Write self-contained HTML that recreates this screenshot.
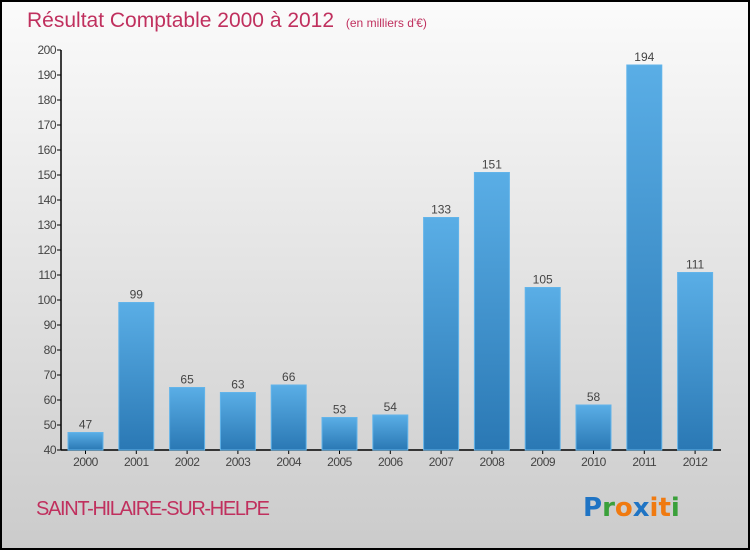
<!DOCTYPE html>
<html><head><meta charset="utf-8"><style>
html,body{margin:0;padding:0;}
body{width:750px;height:550px;overflow:hidden;font-family:"Liberation Sans",sans-serif;}
</style></head><body>
<svg id="chart" width="750" height="550" xmlns="http://www.w3.org/2000/svg">
<defs>
<linearGradient id="bg" x1="0" y1="0" x2="0" y2="1"><stop offset="0" stop-color="#fbfbfb"/><stop offset="1" stop-color="#cbcbcb"/></linearGradient>
<linearGradient id="bar" x1="0" y1="0" x2="0" y2="1"><stop offset="0" stop-color="#5aaee6"/><stop offset="1" stop-color="#2a78b4"/></linearGradient>
</defs>
<rect x="1" y="1" width="748" height="548" fill="url(#bg)" stroke="#000" stroke-width="2"/>
<text x="27" y="27" font-size="21" fill="#c0305e">Résultat Comptable 2000 à 2012 <tspan font-size="12" dx="6">(en milliers d'€)</tspan></text>
<g id="axes"></g>
<g id="bars"></g>
<text x="36" y="515" font-size="20" fill="#c0305e" textLength="234">SAINT-HILAIRE-SUR-HELPE</text>
<text x="583" y="516" font-size="26" font-weight="bold" font-family="'DejaVu Sans',sans-serif"><tspan fill="#1f74c4">P</tspan><tspan fill="#3aa03a">r</tspan><tspan fill="#f07a10">o</tspan><tspan fill="#1f74c4">x</tspan><tspan fill="#f07a10">i</tspan><tspan fill="#f07a10">t</tspan><tspan fill="#3aa03a">i</tspan></text>
</svg>
<script>
const categories=["2000","2001","2002","2003","2004","2005","2006","2007","2008","2009","2010","2011","2012"];
const values=[47,99,65,63,66,53,54,133,151,105,58,194,111];
const yTicks=[40,50,60,70,80,90,100,110,120,130,140,150,160,170,180,190,200];
const NS="http://www.w3.org/2000/svg";
const y=v=>450-(v-40)*2.5;
const x=i=>85.5+i*50.8;
const axes=document.getElementById('axes'),bars=document.getElementById('bars');
function mk(tag,attrs,parent,text){const e=document.createElementNS(NS,tag);for(const k in attrs)e.setAttribute(k,attrs[k]);if(text!==undefined)e.textContent=text;parent.appendChild(e);return e;}
let ya=mk('line',{x1:61,y1:50,x2:61,y2:450,stroke:'#000','stroke-width':1.5},axes);


let xa=mk('line',{x1:61,y1:450,x2:721,y2:450,stroke:'#000','stroke-width':1.5},axes);


yTicks.forEach(t=>{
 let l=mk('line',{x1:57,y1:y(t),x2:61,y2:y(t),stroke:'#000'},axes);
 
 
 let tx=mk('text',{x:56,y:y(t)+4,'font-size':12,fill:'#444','text-anchor':'end','letter-spacing':'-0.5'},axes,t);
 
 
});
categories.forEach((c,i)=>{
 const v=values[i];
 let r=mk('rect',{x:x(i)-17.5,y:y(v),width:35,height:450-y(v),fill:'url(#bar)',stroke:'#62b4ea','stroke-width':1},bars);
 
 
 let vl=mk('text',{x:x(i),y:y(v)-4,'font-size':12,fill:'#444','text-anchor':'middle'},bars,v);
 
 
 let tk=mk('line',{x1:x(i),y1:450,x2:x(i),y2:454,stroke:'#000'},axes);
 
 
 let cl=mk('text',{x:x(i),y:466,'font-size':12,fill:'#444','text-anchor':'middle','letter-spacing':'-0.5'},axes,c);
 
 
});
</script>
</body></html>
